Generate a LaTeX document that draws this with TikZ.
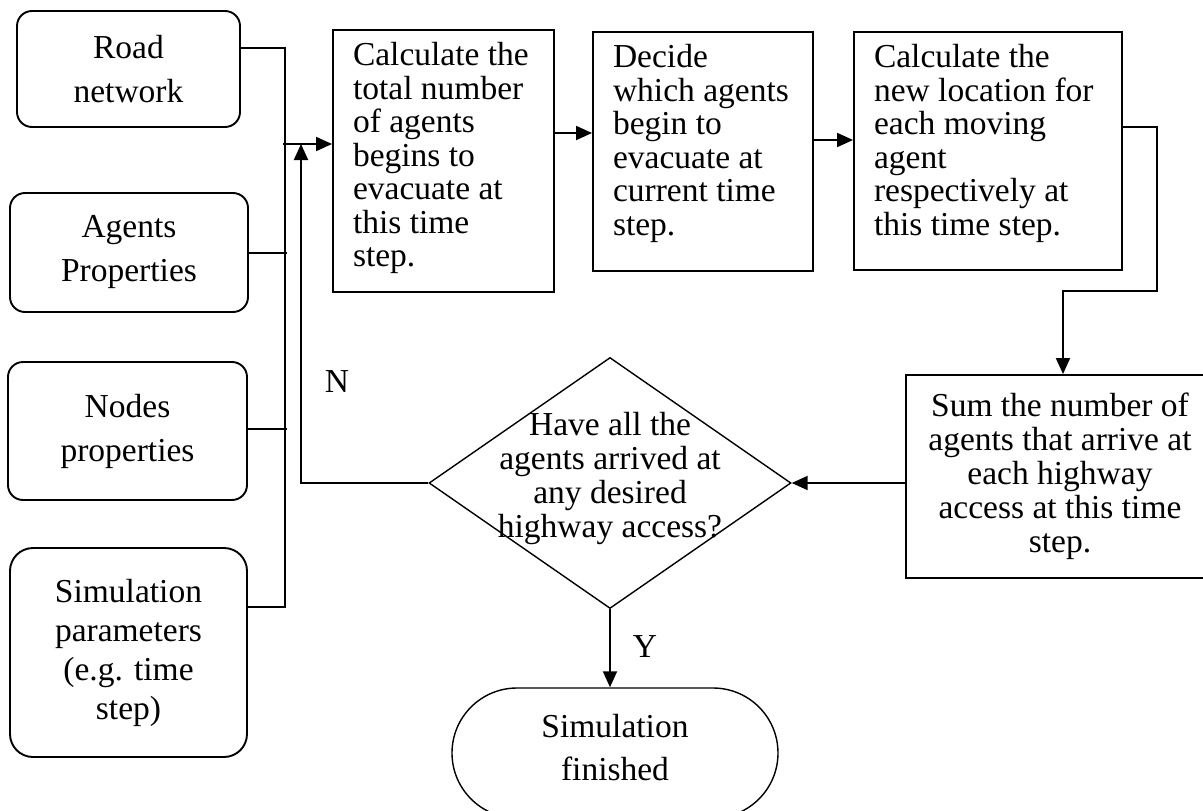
\documentclass[tikz,border=0pt]{standalone}
\usepackage{fontspec}
\setmainfont{Liberation Serif}
\usetikzlibrary{arrows.meta,shapes.geometric}
\begin{document}
\begin{tikzpicture}[x=1pt,y=-1pt,
  every node/.style={font=\fontsize{33.5pt}{33.5pt}\selectfont},
  ln/.style={line width=1.9pt},
  arr/.style={line width=1.9pt,-{Triangle[length=16pt,width=14pt]}},
  inbox/.style={draw,line width=1.9pt,rounded corners=15pt,align=center,inner sep=0pt,font=\fontsize{33.5pt}{44pt}\selectfont},
  procbox/.style={draw,line width=1.9pt,inner xsep=20pt,inner ysep=12.5pt},
  sumbox/.style={draw,line width=1.9pt,align=center,inner sep=0pt,font=\fontsize{33.5pt}{34pt}\selectfont},
  decbox/.style={diamond,draw,line width=1.4pt,inner sep=0pt},
  termbox/.style={draw,line width=1.4pt,align=center,inner sep=0pt,font=\fontsize{33.5pt}{43pt}\selectfont},
]
\path[use as bounding box] (0,0) rectangle (1203,811);
\clip (0,0) rectangle (1203,811);

% input boxes
\node[inbox,minimum width=223pt,minimum height=116pt] (road) at (128.5,69) {Road\\network};
\node[inbox,minimum width=238pt,minimum height=119pt] (agents) at (129,252.5) {Agents\\Properties};
\node[inbox,minimum width=239pt,minimum height=138pt] (nodesp) at (127.5,431) {Nodes\\properties};
\node[inbox,rounded corners=23pt,minimum width=237pt,minimum height=209pt,font=\fontsize{33.5pt}{39pt}\selectfont] (simp) at (128.5,652.5) {Simulation\\parameters\\(e.g. time\\step)};

% process boxes
\node[procbox] (calc) at (443.5,161) {\parbox[c][237pt][t]{181pt}{\raggedright Calculate the\\total number\\of agents\\begins to\\evacuate at\\this time\\step.}};
\node[procbox] (decide) at (703,151.5) {\parbox[c][214pt][t]{180pt}{\raggedright Decide\\which agents\\begin to\\evacuate at\\current time\\step.}};
\node[procbox] (newloc) at (988,151) {\parbox[c][213pt][t]{228pt}{\raggedright Calculate the\\new location for\\each moving\\agent\\respectively at\\this time step.}};
\node[sumbox,minimum width=308pt,minimum height=203pt] (sum) at (1060,476.5) {Sum the number of\\agents that arrive at\\each highway\\access at this time\\step.};

% decision and terminal
\node[decbox,minimum width=362pt,minimum height=251pt] (dec) at (610,483) {};
\node[align=center,font=\fontsize{33.5pt}{34pt}\selectfont,inner sep=0pt] (dectext) at (610,478) {Have all the\\agents arrived at\\any desired\\highway access?};
\node[termbox,rounded corners=65pt,minimum width=326pt,minimum height=130pt] (term) at (615,753) {};
\node[align=center,font=\fontsize{33.5pt}{43pt}\selectfont,inner sep=0pt] (termtext) at (615,748) {Simulation\\finished};

% labels
\node (nlab) at (337,382) {N};
\node (ylab) at (645,647) {Y};

% coordinates
\coordinate (btop) at (285,48);
\coordinate (bbot) at (285,607);
\coordinate (bagents) at (287,253);
\coordinate (bnodes) at (287,429);
\coordinate (j) at (283,144);
\coordinate (y12) at (0,133);
\coordinate (y23) at (0,140);
\coordinate (c1) at (1157,127);
\coordinate (c2) at (1157,291);
\coordinate (c3) at (1063,291);
\coordinate (fb) at (301,483);

% bus
\draw[ln] (road.east |- btop) -- (btop) -- (bbot) -- (simp.east |- bbot);
\draw[ln] (agents.east |- bagents) -- (bagents);
\draw[ln] (nodesp.east |- bnodes) -- (bnodes);
\draw[arr] (j) -- (j -| calc.west);

% flow
\draw[arr] (calc.east |- y12) -- (decide.west |- y12);
\draw[arr] (decide.east |- y23) -- (newloc.west |- y23);
\draw[arr] (newloc.east |- c1) -- (c1) -- (c2) -- (c3) -- (c3 |- sum.north);
\draw[arr] (sum.west |- dec.east) -- (dec.east);
\draw[arr] (dec.west) -- (fb) -- (fb |- j);
\draw[arr] (dec.south) -- (dec.south |- term.north);
\end{tikzpicture}
\end{document}
